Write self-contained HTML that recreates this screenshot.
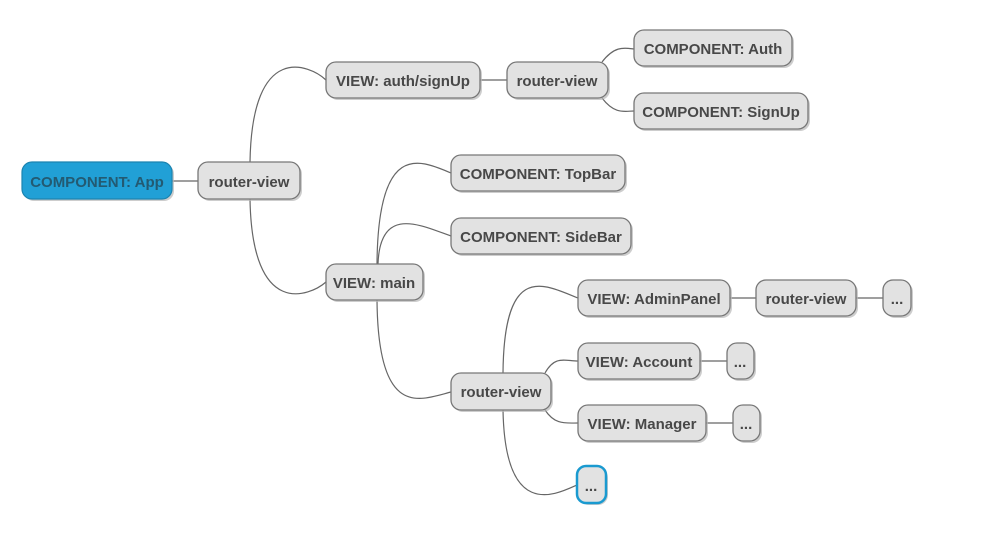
<!DOCTYPE html>
<html><head><meta charset="utf-8"><style>
body{margin:0;background:#fff;width:989px;height:539px;overflow:hidden}
svg text{font-family:"Liberation Sans","DejaVu Sans",sans-serif;font-weight:bold;font-size:15px;fill:#484848}
</style></head><body>
<svg width="989" height="539" viewBox="0 0 989 539" xmlns="http://www.w3.org/2000/svg">
<g fill="none" stroke="#666" stroke-width="1.2">
<path d="M172,181 L198,181"/>
<path d="M250,162 C252,40 310,65 326,80"/>
<path d="M250,199 C252,320 310,296 326,282"/>
<path d="M480,80 L507,80"/>
<path d="M602,62 C615,45 625,48 634,49"/>
<path d="M602,98 C615,115 625,111 634,111"/>
<path d="M377,264 C378,140 420,160 451,173"/>
<path d="M378,264 C380,205 420,225 451,236"/>
<path d="M377,300 C378,420 420,400 451,392"/>
<path d="M503,373 C504,260 545,285 578,298"/>
<path d="M545,373 C555,355 565,361 578,361"/>
<path d="M545,410 C555,425 565,423 578,423"/>
<path d="M503,410 C505,520 555,495 577,485"/>
<path d="M730,298 L756,298"/>
<path d="M856,298 L883,298"/>
<path d="M700,361 L727,361"/>
<path d="M706,423 L733,423"/>
</g>
<g fill="#b8b8b8" opacity="0.7">
<rect x="24" y="164" width="150" height="37" rx="10"/>
<rect x="200" y="164" width="102" height="37" rx="10"/>
<rect x="328" y="64" width="154" height="36" rx="10"/>
<rect x="509" y="64" width="101" height="36" rx="10"/>
<rect x="636" y="32" width="158" height="36" rx="10"/>
<rect x="636" y="95" width="174" height="36" rx="10"/>
<rect x="453" y="157" width="174" height="36" rx="10"/>
<rect x="453" y="220" width="180" height="36" rx="10"/>
<rect x="328" y="266" width="97" height="36" rx="10"/>
<rect x="453" y="375" width="100" height="37" rx="10"/>
<rect x="580" y="282" width="152" height="36" rx="10"/>
<rect x="758" y="282" width="100" height="36" rx="10"/>
<rect x="885" y="282" width="28" height="36" rx="10"/>
<rect x="580" y="345" width="122" height="36" rx="10"/>
<rect x="729" y="345" width="27" height="36" rx="10"/>
<rect x="580" y="407" width="128" height="36" rx="10"/>
<rect x="735" y="407" width="27" height="36" rx="10"/>
<rect x="579" y="468" width="29" height="37" rx="10"/>
</g>
<rect x="22" y="162" width="150" height="37" rx="10" fill="#21a0d6" stroke="#1c84b0" stroke-width="1.2"/>
<g fill="#e2e2e2" stroke="#777" stroke-width="1.3">
<rect x="198" y="162" width="102" height="37" rx="10"/>
<rect x="326" y="62" width="154" height="36" rx="10"/>
<rect x="507" y="62" width="101" height="36" rx="10"/>
<rect x="634" y="30" width="158" height="36" rx="10"/>
<rect x="634" y="93" width="174" height="36" rx="10"/>
<rect x="451" y="155" width="174" height="36" rx="10"/>
<rect x="451" y="218" width="180" height="36" rx="10"/>
<rect x="326" y="264" width="97" height="36" rx="10"/>
<rect x="451" y="373" width="100" height="37" rx="10"/>
<rect x="578" y="280" width="152" height="36" rx="10"/>
<rect x="756" y="280" width="100" height="36" rx="10"/>
<rect x="883" y="280" width="28" height="36" rx="10"/>
<rect x="578" y="343" width="122" height="36" rx="10"/>
<rect x="727" y="343" width="27" height="36" rx="10"/>
<rect x="578" y="405" width="128" height="36" rx="10"/>
<rect x="733" y="405" width="27" height="36" rx="10"/>
</g>
<rect x="577" y="466" width="29" height="37" rx="9" fill="#e2e2e2" stroke="#1a9ad0" stroke-width="2.5"/>
<g text-anchor="middle">
<text x="97" y="187" style="fill:#235a72">COMPONENT: App</text>
<text x="249" y="187">router-view</text>
<text x="403" y="86">VIEW: auth/signUp</text>
<text x="557" y="86">router-view</text>
<text x="713" y="54">COMPONENT: Auth</text>
<text x="721" y="117">COMPONENT: SignUp</text>
<text x="538" y="179">COMPONENT: TopBar</text>
<text x="541" y="242">COMPONENT: SideBar</text>
<text x="374" y="288">VIEW: main</text>
<text x="501" y="397">router-view</text>
<text x="654" y="304">VIEW: AdminPanel</text>
<text x="806" y="304">router-view</text>
<text x="897" y="304">...</text>
<text x="639" y="367">VIEW: Account</text>
<text x="740" y="367">...</text>
<text x="642" y="429">VIEW: Manager</text>
<text x="746" y="429">...</text>
<text x="591" y="491">...</text>
</g>
</svg>
</body></html>
